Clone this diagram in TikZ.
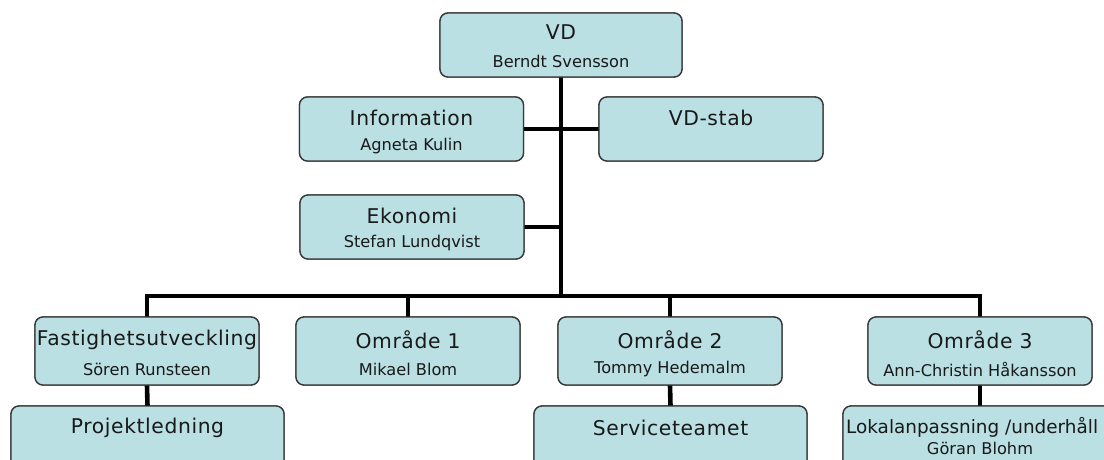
\documentclass[tikz,border=0pt]{standalone}
\usepackage{fontspec}
\setmainfont{DejaVu Sans}
\definecolor{boxfill}{RGB}{186,224,228}
\definecolor{boxline}{RGB}{55,55,55}
\definecolor{ink}{RGB}{25,25,25}
\begin{document}
\begin{tikzpicture}[x=1pt,y=-1pt,
  unit/.style={draw=boxline, fill=boxfill, line width=1.3pt, rounded corners=8pt,
    inner sep=0pt, outer sep=0pt, minimum width=224pt, minimum height=64pt},
  title/.style={text=ink, inner sep=0pt, font=\fontsize{20.3}{24}\selectfont\addfontfeature{LetterSpace=3}},
  longtitle/.style={text=ink, inner sep=0pt, font=\fontsize{18.4}{22}\selectfont},
  person/.style={text=ink, inner sep=0pt, font=\fontsize{16.2}{19}\selectfont},
  wire/.style={line width=4.6pt, black, line join=miter, line cap=rect}]
\useasboundingbox (0,0) rectangle (1104,459);
\clip (0,0) rectangle (1104,459);
\fill[white] (0,0) rectangle (1104,459);

% level of the horizontal bus
\coordinate (bus) at (561,296);

% box outlines (placed first so the wires can refer to them)
\node[unit, minimum width=242pt] (vd)   at (561,45)  {};
\node[unit] (info) at (411.5,129) {};
\node[unit] (stab) at (711,129)   {};
\node[unit] (eko)  at (412,227)   {};
\node[unit, minimum height=68pt] (fast) at (147,351) {};
\node[unit, minimum height=68pt] (o1)   at (408,351) {};
\node[unit, minimum height=68pt] (o2)   at (670,351) {};
\node[unit, minimum height=68pt] (o3)   at (980,351) {};
\node[unit, minimum width=273pt, minimum height=90pt] (proj) at (147.5,451) {};
\node[unit, minimum width=273pt, minimum height=90pt] (serv) at (670.5,451) {};
\node[unit, minimum width=274pt, minimum height=90pt] (lok)  at (980,451) {};

% connectors
\draw[wire] (vd.south) -- (vd.south |- bus);
\draw[wire] (info.east) -- (stab.west);
\draw[wire] (eko.east) -- (eko.east -| vd.south);
\draw[wire] (fast.north) -- (fast.north |- bus) -- (o3.north |- bus) -- (o3.north);
\draw[wire] (o1.north) -- (o1.north |- bus);
\draw[wire] (o2.north) -- (o2.north |- bus);
\draw[wire] (fast.south) -- (proj.north);
\draw[wire] (o2.south) -- (serv.north);
\draw[wire] (o3.south) -- (lok.north);

% boxes redrawn over the connector ends
\foreach \n in {vd,info,stab,eko,fast,o1,o2,o3,proj,serv,lok}{
  \draw[draw=boxline, fill=boxfill, line width=1.3pt, rounded corners=8pt]
    (\n.north west) rectangle (\n.south east);
}

% texts
\node[title]  at ([yshift=-19pt]vd.north)   {VD};
\node[person] at ([yshift=-48pt]vd.north)   {Berndt Svensson};
\node[title]  at ([yshift=-21pt]info.north) {Information};
\node[person] at ([yshift=-49pt]info.north) {Agneta Kulin};
\node[title]  at ([yshift=-21pt]stab.north) {VD-stab};
\node[title]  at ([yshift=-21pt]eko.north)  {Ekonomi};
\node[person] at ([yshift=-48pt]eko.north)  {Stefan Lundqvist};
\node[title]  at ([yshift=-23pt]fast.north) {Fastighetsutveckling};
\node[person] at ([yshift=-52pt]fast.north) {Sören Runsteen};
\node[title]  at ([yshift=-23pt]o1.north)   {Område 1};
\node[person] at ([yshift=-52pt]o1.north)   {Mikael Blom};
\node[title]  at ([yshift=-23pt]o2.north)   {Område 2};
\node[person] at ([yshift=-52pt]o2.north)   {Tommy Hedemalm};
\node[title]  at ([yshift=-23pt]o3.north)   {Område 3};
\node[person] at ([yshift=-52pt]o3.north)   {Ann-Christin Håkansson};
\node[title]  at ([yshift=-22pt]proj.north) {Projektledning};
\node[title]  at ([yshift=-22pt]serv.north) {Serviceteamet};
\node[longtitle, anchor=west] at ([xshift=3pt,yshift=-21pt]lok.north west) {Lokalanpassning /underhåll};
\node[person] at ([yshift=-42pt]lok.north)  {Göran Blohm};
\end{tikzpicture}
\end{document}
